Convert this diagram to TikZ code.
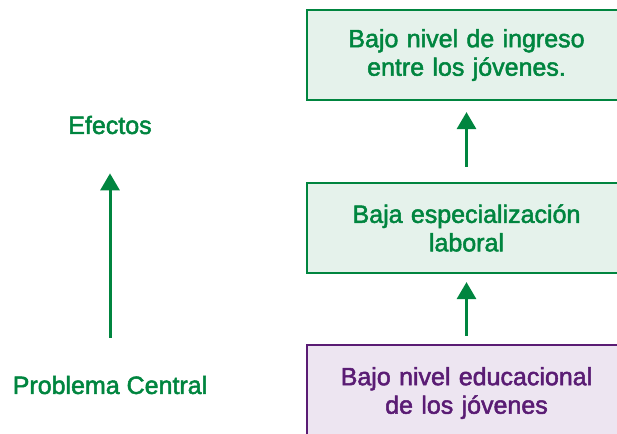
\documentclass[tikz,border=0pt]{standalone}
\usepackage{fontspec}
\setmainfont{Liberation Sans}[UprightFeatures={FakeBold=2}]
\usetikzlibrary{arrows.meta}
\definecolor{dgreen}{HTML}{00853F}
\definecolor{lgreen}{HTML}{E5F2EB}
\definecolor{dpurple}{HTML}{5A1C74}
\definecolor{lpurple}{HTML}{EDE5F1}
\tikzset{
  x=1pt, y=1pt,
  txt/.style={font=\fontsize{25}{28.5}\selectfont, align=center, inner sep=0pt},
  gbox/.style={txt, draw=dgreen, fill=lgreen, line width=2.2pt, text=dgreen,
    minimum width=319pt, text width=315pt},
  pbox/.style={txt, draw=dpurple, fill=lpurple, line width=2.2pt, text=dpurple,
    minimum width=319pt, text width=315pt},
  glabel/.style={txt, text=dgreen},
  uparrow/.style={draw=dgreen, line width=3pt, -{Triangle[width=19pt,length=17pt]}}
}
\begin{document}
\begin{tikzpicture}
\useasboundingbox (0,0) rectangle (617,-433);
\node[gbox, minimum height=90pt] (b1) at (466.5,-55) {Bajo nivel de ingreso\\entre los jóvenes.};
\node[gbox, minimum height=90pt] (b2) at (466.5,-228) {Baja especialización\\laboral};
\node[pbox, minimum height=96pt] (b3) at (466.5,-393) {Bajo nivel educacional\\de los jóvenes};
\node[glabel] (ef) at (110,-125) {Efectos};
\node[glabel] (pc) at (110,-385) {Problema Central};
\draw[uparrow, shorten <=15pt, shorten >=11pt] (b2.north) -- (b1.south);
\draw[uparrow, shorten <=8pt, shorten >=8pt] (b3.north) -- (b2.south);
\draw[uparrow, shorten <=38pt, shorten >=39pt] (pc.north) -- (ef.south);
\end{tikzpicture}
\end{document}
